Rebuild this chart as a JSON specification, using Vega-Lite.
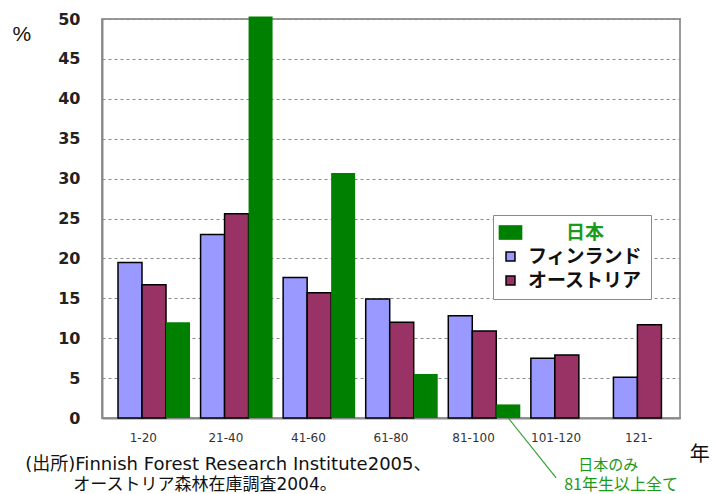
{
  "$schema": "https://vega.github.io/schema/vega-lite/v6.json",
  "width": 578,
  "height": 399,
  "autosize": {"type": "none"},
  "padding": {"left": 102, "top": 19, "right": 36, "bottom": 76},
  "background": "white",
  "config": {
    "font": "Liberation Sans, Noto Sans CJK JP",
    "view": {"stroke": "#9a9a9a", "strokeWidth": 2}
  },
  "encoding": {
    "x": {
      "field": "age", "type": "nominal",
      "scale": {"domain": ["1-20", "21-40", "41-60", "61-80", "81-100", "101-120", "121-"], "paddingInner": 0, "paddingOuter": 0},
      "axis": {
        "title": null, "labelAngle": 0, "labelFontSize": 12, "labelFont": "DejaVu Sans", "labelColor": "#333",
        "labelPadding": 14, "ticks": false, "tickSize": 0,
        "domainColor": "#8a8a8a", "domainWidth": 2
      }
    },
    "y": {
      "field": "pct", "type": "quantitative",
      "scale": {"domain": [0, 50], "nice": false},
      "axis": {
        "values": [0, 5, 10, 15, 20, 25, 30, 35, 40, 45, 50],
        "labelOverlap": false,
        "title": "%", "titleAngle": 0, "titleAlign": "left", "titleBaseline": "middle",
        "titleX": -90, "titleY": 15, "titleFontSize": 21, "titleFontWeight": "normal", "titleColor": "#111",
        "labelFontSize": 16, "labelFont": "DejaVu Sans", "labelFontWeight": "bold", "labelColor": "#222",
        "labelPadding": 22, "ticks": false, "tickSize": 0,
        "domainColor": "#8a8a8a", "domainWidth": 2,
        "grid": true, "gridColor": "#8a8a8a", "gridDash": [3, 3], "gridWidth": 1
      }
    }
  },
  "layer": [
    {
      "data": {
        "values": [
          {"age": "1-20", "country": "フィンランド", "pct": 19.5},
          {"age": "21-40", "country": "フィンランド", "pct": 23.0},
          {"age": "41-60", "country": "フィンランド", "pct": 17.6},
          {"age": "61-80", "country": "フィンランド", "pct": 14.9},
          {"age": "81-100", "country": "フィンランド", "pct": 12.8},
          {"age": "101-120", "country": "フィンランド", "pct": 7.5},
          {"age": "121-", "country": "フィンランド", "pct": 5.1},
          {"age": "1-20", "country": "オーストリア", "pct": 16.7},
          {"age": "21-40", "country": "オーストリア", "pct": 25.6},
          {"age": "41-60", "country": "オーストリア", "pct": 15.7},
          {"age": "61-80", "country": "オーストリア", "pct": 12.0},
          {"age": "81-100", "country": "オーストリア", "pct": 10.9},
          {"age": "101-120", "country": "オーストリア", "pct": 7.9},
          {"age": "121-", "country": "オーストリア", "pct": 11.7},
          {"age": "1-20", "country": "日本", "pct": 12.0},
          {"age": "21-40", "country": "日本", "pct": 50.3},
          {"age": "41-60", "country": "日本", "pct": 30.7},
          {"age": "61-80", "country": "日本", "pct": 5.5},
          {"age": "81-100", "country": "日本", "pct": 1.7}
        ]
      },
      "mark": {"type": "bar"},
      "encoding": {
        "xOffset": {
          "field": "country", "type": "nominal",
          "scale": {"domain": ["フィンランド", "オーストリア", "日本"], "range": [16, 88], "paddingInner": 0, "paddingOuter": 0}
        },
        "color": {
          "field": "country", "type": "nominal",
          "scale": {"domain": ["日本", "フィンランド", "オーストリア"], "range": ["#008000", "#9999ff", "#993366"]},
          "legend": {
            "title": null,
            "orient": "none", "legendX": 391, "legendY": 196,
            "direction": "vertical",
            "strokeColor": "#8a8a8a", "fillColor": "white", "padding": 8,
            "labelFont": "Noto Sans CJK JP", "labelFontSize": 19, "labelFontWeight": "bold",
            "labelOffset": 8, "rowPadding": 4,
            "symbolType": "square", "symbolSize": 80, "symbolStrokeColor": "black", "symbolStrokeWidth": 1.5,
            "encode": {
              "symbols": {
                "update": {
                  "size": {"signal": "datum.value === '日本' ? 560 : 80"},
                  "shape": {"signal": "datum.value === '日本' ? 'M-1,-0.62H1V0.62H-1Z' : 'square'"},
                  "strokeWidth": {"signal": "datum.value === '日本' ? 0 : 1.5"},
                  "stroke": {"value": "black"},
                  "dx": {"signal": "datum.value === '日本' ? 8 : 0"}
                }
              },
              "labels": {
                "update": {
                  "fill": {"signal": "datum.value === '日本' ? '#1a9a1a' : '#111'"},
                  "dx": {"signal": "datum.value === '日本' ? 38 : 0"}
                }
              }
            }
          }
        },
        "stroke": {
          "condition": {"test": "datum.country === '日本'", "value": null},
          "value": "black"
        },
        "strokeWidth": {
          "condition": {"test": "datum.country === '日本'", "value": 0},
          "value": 1.5
        }
      }
    },
    {
      "data": {"values": [{"age": "81-100", "age2": "101-120", "country": "日本", "pct": 0, "pct2": -7.5}]},
      "mark": {"type": "rule", "color": "#2e9e2e", "strokeWidth": 1.2, "clip": false},
      "encoding": {
        "xOffset": {"field": "country", "type": "nominal"},
        "x2": {"field": "age2"},
        "y2": {"field": "pct2"}
      }
    },
    {
      "data": {"values": [{"age": "101-120", "pct": -5.85, "t": "日本のみ"}]},
      "mark": {"type": "text", "align": "left", "baseline": "middle", "dx": 22, "fontSize": 15, "color": "#1a9a1a", "font": "Noto Sans CJK JP"},
      "encoding": {"text": {"field": "t"}}
    },
    {
      "data": {"values": [{"age": "101-120", "pct": -8.45, "t": "81年生以上全て"}]},
      "mark": {"type": "text", "align": "left", "baseline": "middle", "dx": 8, "fontSize": 16, "color": "#1a9a1a", "font": "Noto Sans CJK JP"},
      "encoding": {"text": {"field": "t"}}
    },
    {
      "data": {"values": [{"age": "121-", "pct": -4.6, "t": "年"}]},
      "mark": {"type": "text", "align": "left", "baseline": "middle", "dx": 51, "fontSize": 20, "color": "#111", "font": "Noto Sans CJK JP"},
      "encoding": {"text": {"field": "t"}}
    },
    {
      "data": {"values": [{"age": "1-20", "pct": -5.95, "t": "(出所)Finnish Forest Research Institute2005、"}]},
      "mark": {"type": "text", "align": "left", "baseline": "middle", "dx": -118, "fontSize": 18, "color": "#111", "font": "DejaVu Sans, Noto Sans CJK JP"},
      "encoding": {"text": {"field": "t"}}
    },
    {
      "data": {"values": [{"age": "1-20", "pct": -8.45, "t": "オーストリア森林在庫調査2004。"}]},
      "mark": {"type": "text", "align": "left", "baseline": "middle", "dx": -70, "fontSize": 17, "color": "#111", "font": "DejaVu Sans, Noto Sans CJK JP"},
      "encoding": {"text": {"field": "t"}}
    }
  ]
}
